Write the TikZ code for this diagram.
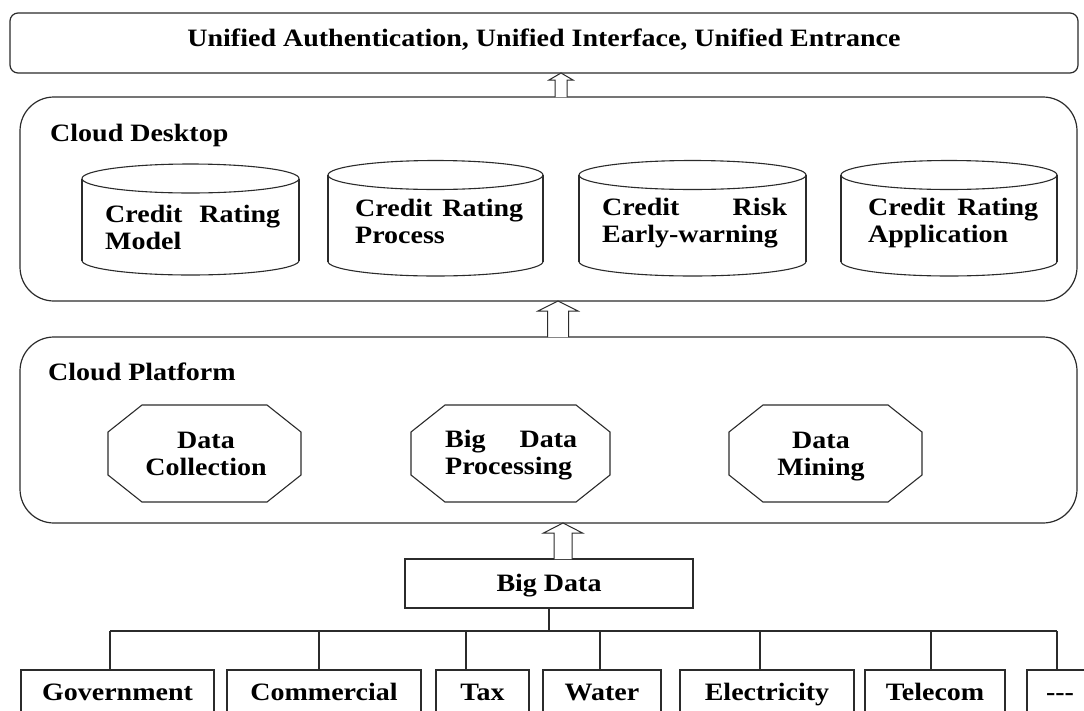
\documentclass[tikz,border=0pt]{standalone}
\usepackage{fontspec}
\setmainfont{Liberation Serif}[FakeStretch=1.12]
\definecolor{ln}{HTML}{2B2B2B}
\newcommand{\twoc}[2]{\vtop{\hbox to 0pt{\hss#1\hss}\hbox to 0pt{\hss#2\hss}}}
\newcommand{\twol}[3]{\vtop{\hbox to #1{#2}\hbox{#3}}}
\tikzset{
 txt/.style={font=\fontsize{25}{27}\selectfont\bfseries, inner sep=0pt},
 box/.style={txt, draw=ln, line width=1.2pt, fill=white, text height=16.5pt, text depth=0pt},
 panel/.style={draw=ln, line width=1.2pt, rounded corners=34pt, inner sep=0pt},
 shp/.style={draw=ln, line width=1.1pt},
 conn/.style={draw=ln, line width=1.2pt},
 harrow/.style={draw=ln, line width=1pt, fill=white, line join=miter},
}
\newcommand{\hollowup}[6]{\draw[harrow] (#1-#4,#2) -- (#1-#4,#3+#6) -- (#1-#5,#3+#6) -- (#1,#3) -- (#1+#5,#3+#6) -- (#1+#4,#3+#6) -- (#1+#4,#2);}
% name, L, R, ytop, ybottom, ry
\newcommand{\cyl}[6]{%
 \begin{scope}\clip (#2-5,#5) rectangle (#3+5,#5+#6+5);
 \draw[shp] ({(#2+#3)/2},#5) ellipse[x radius={(#3-#2)/2}, y radius=#6];\end{scope}
 \draw[shp] (#2,#4) -- (#2,#5) (#3,#4) -- (#3,#5);
 \draw[shp] ({(#2+#3)/2},#4) ellipse[x radius={(#3-#2)/2}, y radius=#6];
 \coordinate (#1) at ({(#2+#3)/2},{(#4+#5)/2});
}
% name, cx, cy, hw, hh, dx, dy
\newcommand{\octa}[7]{%
 \draw[shp] (#2-#4+#6,#3-#5) -- (#2+#4-#6,#3-#5) -- (#2+#4,#3-#5+#7) -- (#2+#4,#3+#5-#7)
   -- (#2+#4-#6,#3+#5) -- (#2-#4+#6,#3+#5) -- (#2-#4,#3+#5-#7) -- (#2-#4,#3-#5+#7) -- cycle;
 \coordinate (#1) at (#2,#3);
}
\begin{document}
\begin{tikzpicture}[x=1pt,y=-1pt]
\useasboundingbox (0,0) rectangle (1084,710);
\clip (0,0) rectangle (1084,710);

% panels
\node[box, rounded corners=8pt, minimum width=1068pt, minimum height=60pt, text depth=10pt] (top) at (544,43)
  {Unified Authentication, Unified Interface, Unified Entrance};
\node[panel, minimum width=1057pt, minimum height=204pt] (desk) at (548.5,199) {};
\node[panel, minimum width=1057pt, minimum height=186pt] (plat) at (548.5,430) {};
\node[txt, anchor=base west] (deskl) at (50,141) {Cloud Desktop};
\node[txt, anchor=base west] (platl) at (48,380) {Cloud Platform};

% cylinders
\cyl{c1}{82}{299}{178.5}{260.5}{14.5}
\cyl{c2}{328}{543}{175}{261.5}{14.5}
\cyl{c3}{579}{806}{175}{261.5}{14.5}
\cyl{c4}{841}{1057}{175}{261.5}{14.5}
\node[txt, anchor=base west] (t1) at (105,222) {\twol{175pt}{Credit\hfill Rating}{Model}};
\node[txt, anchor=base west] (t2) at (355,216) {\twol{168pt}{Credit\hfill Rating}{Process}};
\node[txt, anchor=base west] (t3) at (602,215) {\twol{185pt}{Credit\hfill Risk}{Early-warning}};
\node[txt, anchor=base west] (t4) at (868,215) {\twol{170pt}{Credit\hfill Rating}{Application}};

% octagons
\octa{o1}{204.5}{453.5}{96.5}{48.5}{34}{27}
\octa{o2}{510.5}{453.5}{99.5}{48.5}{34}{27}
\octa{o3}{825.5}{453.5}{96.5}{48.5}{34}{27}
\node[txt, anchor=base] (ot1) at (206,448) {\twoc{Data}{Collection}};
\node[txt, anchor=base west] (ot2) at (445,447) {\twol{132pt}{Big\hfill Data}{Processing}};
\node[txt, anchor=base] (ot3) at (821,448) {\twoc{Data}{Mining}};

% big data and sources
\node[box, minimum width=288pt, minimum height=49pt] (bd) at (549,583.5) {Big Data};
\node[box, minimum width=193pt, minimum height=45pt] (gov) at (117.5,692.5) {Government};
\node[box, minimum width=194pt, minimum height=45pt] (comm) at (324,692.5) {Commercial};
\node[box, minimum width=93pt, minimum height=45pt] (tax) at (482.5,692.5) {Tax};
\node[box, minimum width=118pt, minimum height=45pt] (water) at (602,692.5) {Water};
\node[box, minimum width=174pt, minimum height=45pt] (elec) at (767,692.5) {Electricity};
\node[box, minimum width=140pt, minimum height=45pt] (tel) at (935,692.5) {Telecom};
\node[box, minimum width=66pt, minimum height=45pt] (dots) at (1060,692.5) {-{}-{}-};

\coordinate (busL) at (110,631);
\coordinate (busR) at (1057,631);
\coordinate (b2) at (319,631);
\coordinate (b3) at (466,631);
\coordinate (b4) at (600,631);
\coordinate (b5) at (760,631);
\coordinate (b6) at (931,631);
\draw[conn] (bd.south) -- (bd.south |- busL);
\draw[conn] (busL) -- (busR);
\draw[conn] (busL) -- (busL |- gov.north);
\draw[conn] (b2) -- (b2 |- comm.north);
\draw[conn] (b3) -- (b3 |- tax.north);
\draw[conn] (b4) -- (b4 |- water.north);
\draw[conn] (b5) -- (b5 |- elec.north);
\draw[conn] (b6) -- (b6 |- tel.north);
\draw[conn] (busR) -- (busR |- dots.north);

% hollow arrows
\hollowup{561}{97}{73}{6}{12}{7}
\hollowup{558}{337}{301}{10.5}{20}{10}
\hollowup{563}{559}{523}{9}{19.5}{10}
\end{tikzpicture}
\end{document}
